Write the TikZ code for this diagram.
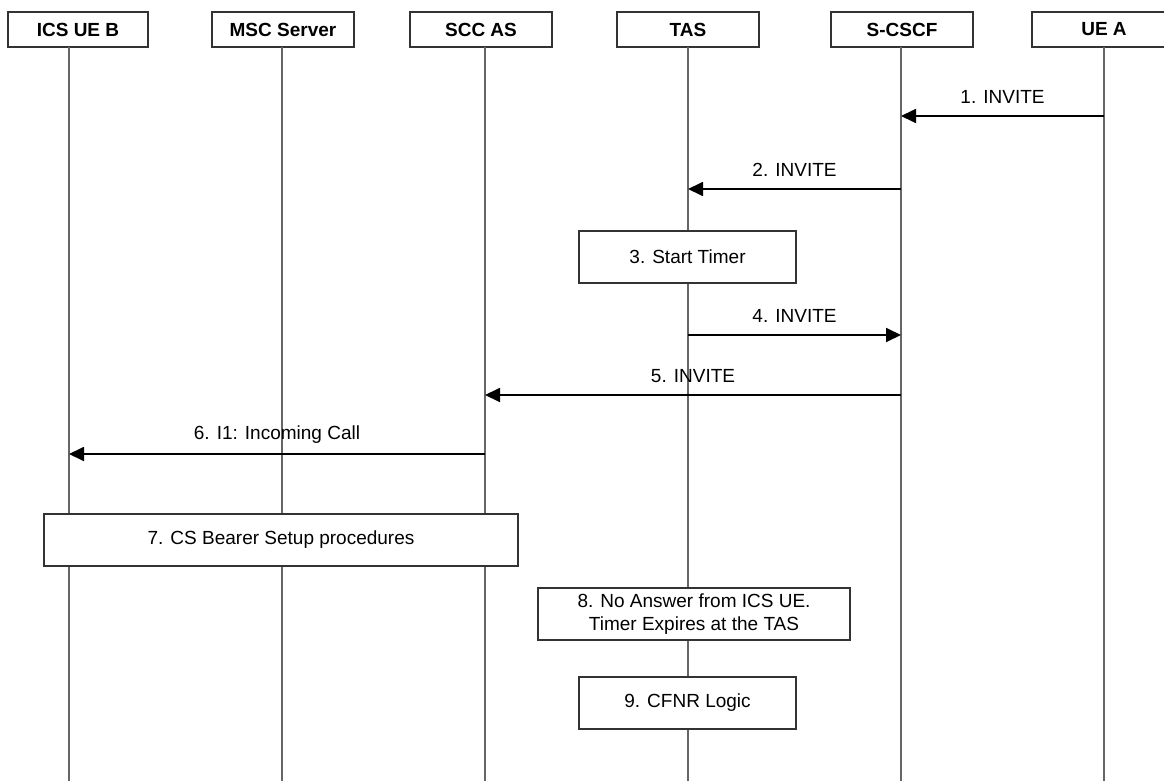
\documentclass[tikz,border=0pt]{standalone}
\usepackage{fontspec}
\setmainfont{Liberation Sans}
\usetikzlibrary{arrows.meta}
\begin{document}
\begin{tikzpicture}[x=1pt,y=-1pt,
  hdr/.style={draw=black!80,line width=1.2pt,fill=white,minimum height=35pt,inner sep=0pt,font=\fontsize{19}{22}\selectfont\bfseries},
  procbox/.style={draw=black!80,line width=1.2pt,fill=white,inner sep=0pt,align=center,font=\fontsize{19}{23}\selectfont},
  lifeline/.style={draw=black!60,line width=1.3pt},
  msg/.style={draw=black,line width=1.8pt,-{Triangle[length=15pt,width=14pt]}},
  lbl/.style={font=\fontsize{19}{22}\selectfont,inner sep=0pt}]
\useasboundingbox (0,0) rectangle (1164,781);
\fill[white] (0,0) rectangle (1164,781);
% header boxes
\node[hdr,minimum width=140pt] (hB) at (78,29.5) {ICS UE B};
\node[hdr,minimum width=142pt] (hM) at (283,29.5) {MSC Server};
\node[hdr,minimum width=142pt] (hS) at (481,29.5) {SCC AS};
\node[hdr,minimum width=142pt] (hT) at (688,29.5) {TAS};
\node[hdr,minimum width=142pt] (hC) at (902,29.5) {S-CSCF};
\node[hdr,minimum width=144pt] (hA) at (1104,29.5) {UE A};
% lifeline ends
\coordinate (tB) at (69,47);   \coordinate (bB) at (69,781);
\coordinate (tM) at (282,47);  \coordinate (bM) at (282,781);
\coordinate (tS) at (485,47);  \coordinate (bS) at (485,781);
\coordinate (tT) at (688,47);  \coordinate (bT) at (688,781);
\coordinate (tC) at (901,47);  \coordinate (bC) at (901,781);
\coordinate (tA) at (1104,47); \coordinate (bA) at (1104,781);
\foreach \n in {B,M,S,T,C,A} \draw[lifeline] (t\n) -- (b\n);
% process boxes
\node[procbox,minimum width=217pt,minimum height=52pt] (p3) at (687.5,257) {3. Start Timer};
\node[procbox,minimum width=474pt,minimum height=52pt] (p7) at (281,540) {7. CS Bearer Setup procedures};
\node[procbox,minimum width=312pt,minimum height=52pt] (p8) at (694,614) {8. No Answer from ICS UE.\\Timer Expires at the TAS};
\node[procbox,minimum width=217pt,minimum height=52pt] (p9) at (687.5,703) {9. CFNR Logic};
% message points
\coordinate (m1a) at (1104,116); \coordinate (m1b) at (901,116);
\coordinate (m2a) at (901,189);  \coordinate (m2b) at (688,189);
\coordinate (m4a) at (688,335);  \coordinate (m4b) at (901,335);
\coordinate (m5a) at (901,395);  \coordinate (m5b) at (485,395);
\coordinate (m6a) at (485,454);  \coordinate (m6b) at (69,454);
\draw[msg] (m1a) -- (m1b) node[midway,lbl,yshift=19pt] {1. INVITE};
\draw[msg] (m2a) -- (m2b) node[midway,lbl,yshift=19pt] {2. INVITE};
\draw[msg] (m4a) -- (m4b) node[midway,lbl,yshift=19pt] {4. INVITE};
\draw[msg] (m5a) -- (m5b) node[midway,lbl,yshift=19pt] {5. INVITE};
\draw[msg] (m6a) -- (m6b) node[midway,lbl,yshift=19pt] {6. I1: Incoming Call};
\end{tikzpicture}
\end{document}
